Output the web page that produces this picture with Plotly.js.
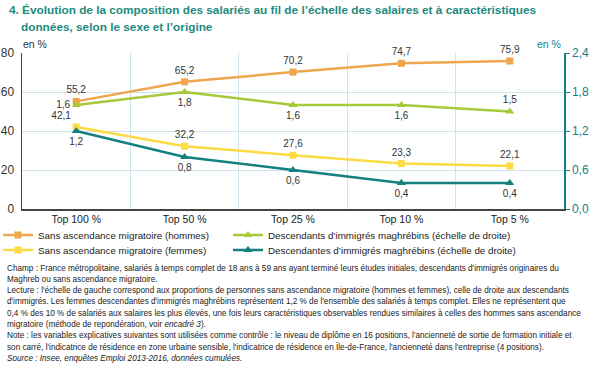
<!DOCTYPE html>
<html><head><meta charset="utf-8">
<script src="https://cdn.plot.ly/plotly-3.0.1.min.js"></script>
<style>html,body{margin:0;padding:0;background:#fff}#c{width:600px;height:366px}</style>
</head><body><div id="c"></div>
<script>
const categories = ["Top 100 %", "Top 50 %", "Top 25 %", "Top 10 %", "Top 5 %"];
const hommesSans = [55.2, 65.2, 70.2, 74.7, 75.9];
const femmesSans = [42.1, 32.2, 27.6, 23.3, 22.1];
const descendantsMagh = [1.6, 1.8, 1.6, 1.6, 1.5];
const descendantesMagh = [1.2, 0.8, 0.6, 0.4, 0.4];
const leftTicks = [0, 20, 40, 60, 80];
const rightTicks = [0, 0.6, 1.2, 1.8, 2.4];

const W = 600, H = 366;
const L = 22, R = 36, T = 53, B = 157;
const pw = W - L - R, ph = H - T - B;
const px = x => (x - L) / pw;
const py = y => (H - B - y) / ph;

const C_OR = '#f0a54f', C_YE = '#fddb45', C_GR = '#a7c83a', C_TE = '#14807f';
const FONT = '"Liberation Sans", Arial, sans-serif';
const fmt = v => v.toFixed(1).replace('.', ',');

function tr(y, name, color, sym, yaxis, pos, leg) {
  return {
    x: categories, y: y, name: name, yaxis: yaxis, legend: leg,
    type: 'scatter', mode: 'lines+markers+text',
    line: {color: color, width: 2.5},
    marker: {color: color, symbol: sym, size: sym === 'square' ? 7 : 8},
    text: y.map(fmt), textposition: pos,
    textfont: {family: FONT, size: 10, color: '#333'},
    cliponaxis: false
  };
}

const data = [
  tr(hommesSans, 'Sans ascendance migratoire (hommes)', C_OR, 'square', 'y', 'top center', 'legend'),
  tr(femmesSans, 'Sans ascendance migratoire (femmes)', C_YE, 'square', 'y',
     ['top left', 'top center', 'top center', 'top center', 'top center'], 'legend2'),
  tr(descendantsMagh, 'Descendants d’immigrés maghrébins (échelle de droite)', C_GR, 'triangle-up', 'y2',
     ['middle left', 'bottom center', 'bottom center', 'bottom center', 'top center'], 'legend3'),
  tr(descendantesMagh, 'Descendantes d’immigrés maghrébins (échelle de droite)', C_TE, 'triangle-up', 'y2',
     'bottom center', 'legend4')
];

function leg(xp, yp) {
  return {x: px(xp), y: py(yp), xanchor: 'left', yanchor: 'middle', orientation: 'v',
    font: {family: FONT, size: 9.8, color: '#222'}, bgcolor: 'rgba(0,0,0,0)', itemwidth: 30};
}

const notes = [
  "Champ : France métropolitaine, salariés à temps complet de 18 ans à 59 ans ayant terminé leurs études initiales, descendants d'immigrés originaires du",
  "Maghreb ou sans ascendance migratoire.",
  "Lecture : l'échelle de gauche correspond aux proportions de personnes sans ascendance migratoire (hommes et femmes), celle de droite aux descendants",
  "d'immigrés. Les femmes descendantes d'immigrés maghrébins représentent 1,2 % de l'ensemble des salariés à temps complet. Elles ne représentent que",
  "0,4 % des 10 % de salariés aux salaires les plus élevés, une fois leurs caractéristiques observables rendues similaires à celles des hommes sans ascendance",
  "migratoire (méthode de repondération, voir <i>encadré 3</i>).",
  "Note : les variables explicatives suivantes sont utilisées comme contrôle : le niveau de diplôme en 16 positions, l'ancienneté de sortie de formation initiale et",
  "son carré, l'indicatrice de résidence en zone urbaine sensible, l'indicatrice de résidence en Île-de-France, l'ancienneté dans l'entreprise (4 positions).",
  "<i>Source : Insee, enquêtes Emploi 2013-2016, données cumulées.</i>"
];
const noteY = [268, 279.3, 290.6, 301.9, 313.2, 324.5, 335.8, 347.1, 358.4];

const annotations = notes.map((t, i) => ({
  text: t, xref: 'paper', yref: 'paper', x: px(5), y: py(noteY[i]),
  xanchor: 'left', yanchor: 'middle', showarrow: false, align: 'left',
  font: {family: FONT, size: 8.2, color: '#222'}
}));
const titleLines = [
  '4. Évolution de la composition des salariés au fil de l’échelle des salaires et à caractéristiques',
  'données, selon le sexe et l’origine'
];
const titleY = [10, 27];
titleLines.forEach((t, i) => annotations.push({
  text: '<b>' + t + '</b>', xref: 'paper', yref: 'paper', x: px(i === 0 ? 7 : 19), y: py(titleY[i]),
  xanchor: 'left', yanchor: 'middle', showarrow: false, align: 'left',
  font: {family: FONT, size: 11.8, color: '#1c8a7e'}
}));
annotations.push({text: 'en %', xref: 'paper', yref: 'paper', x: px(21), y: py(44),
  xanchor: 'left', yanchor: 'middle', showarrow: false, font: {family: FONT, size: 10.5, color: '#333'}});
annotations.push({text: 'en %', xref: 'paper', yref: 'paper', x: px(563), y: py(44),
  xanchor: 'right', yanchor: 'middle', showarrow: false, font: {family: FONT, size: 10.5, color: C_TE}});

const layout = {
  width: W, height: H,
  margin: {l: L, r: R, t: T, b: B, pad: 0, autoexpand: false},
  paper_bgcolor: '#fff', plot_bgcolor: '#fff',
  separators: ',.',
  showlegend: true,
  xaxis: {
    type: 'category', range: [-0.5, 4.5], tickson: 'boundaries', showgrid: true, gridcolor: '#cfe3ef', gridwidth: 1,
    ticks: '', showline: true, linecolor: '#444', linewidth: 1.5, zeroline: false, automargin: false,
    tickfont: {family: FONT, size: 10.5, color: '#222'}, ticklabelstandoff: 0
  },
  yaxis: {
    range: [0, 80], tickvals: leftTicks, showgrid: true, gridcolor: '#cfe3ef', gridwidth: 1,
    showline: true, linecolor: '#444', linewidth: 1.5, zeroline: false, ticks: '', automargin: false,
    tickfont: {family: FONT, size: 12, color: '#333'}, ticklabelstandoff: 4
  },
  yaxis2: {
    overlaying: 'y', side: 'right', range: [0, 2.4], tickvals: rightTicks, tickformat: '.1f',
    showgrid: false, showline: true, linecolor: C_TE, linewidth: 1.5, zeroline: false, automargin: false,
    ticks: 'outside', ticklen: 4, tickcolor: C_TE,
    tickfont: {family: FONT, size: 12, color: C_TE}
  },
  legend: leg(-2, 235),
  legend2: leg(-2, 250),
  legend3: leg(228, 235),
  legend4: leg(228, 250),
  annotations: annotations
};

Plotly.newPlot('c', data, layout, {staticPlot: true, displayModeBar: false});
</script></body></html>
